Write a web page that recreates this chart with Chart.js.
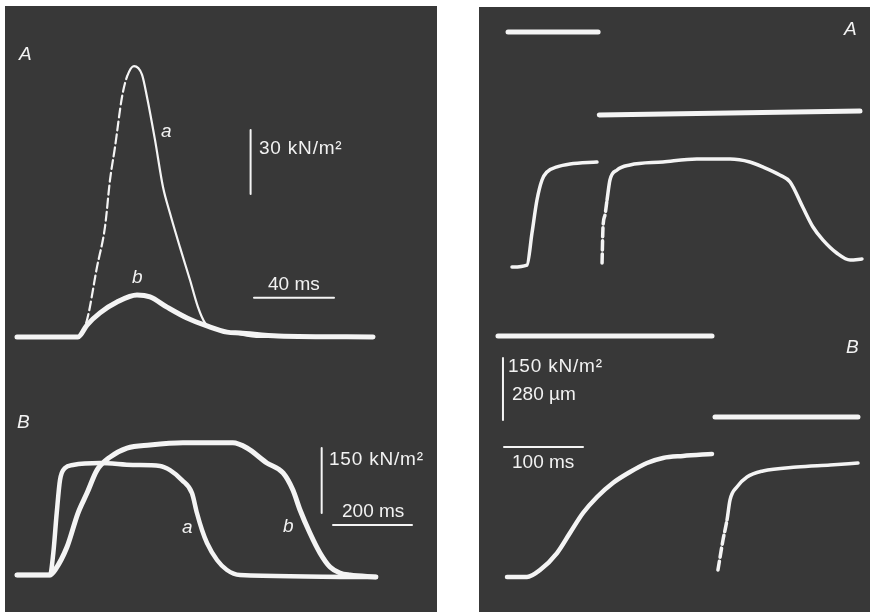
<!DOCTYPE html>
<html>
<head>
<meta charset="utf-8">
<script src="https://cdn.jsdelivr.net/npm/chart.js@4.4.0/dist/chart.umd.min.js"></script>
<style>
body{margin:0;background:#fff;width:870px;height:612px;position:relative;overflow:hidden;font-family:'Liberation Sans',Arial,sans-serif;}
.panel{position:absolute;background:#383838;}
canvas{position:absolute;}
.t{position:absolute;color:#f2f2f2;font-size:19px;line-height:1;white-space:nowrap;}
.i{font-style:italic;}
.u{letter-spacing:0.8px;}
</style>
</head>
<body>
<div class="panel" style="left:5px;top:6px;width:432px;height:606px"></div>
<div class="panel" style="left:479px;top:7px;width:391px;height:605px"></div>

<canvas id="leftA" width="432" height="364" style="left:5px;top:6px"></canvas>
<canvas id="leftB" width="432" height="242" style="left:5px;top:370px"></canvas>
<canvas id="rightA" width="391" height="293" style="left:479px;top:7px"></canvas>
<canvas id="rightB" width="391" height="312" style="left:479px;top:300px"></canvas>

<div class="t i" style="left:19px;top:44px">A</div>
<div class="t i" style="left:161px;top:121px">a</div>
<div class="t i" style="left:132px;top:267px">b</div>
<div class="t u" style="left:259px;top:138px">30 kN/m²</div>
<div class="t" style="left:268px;top:274px">40 ms</div>

<div class="t i" style="left:17px;top:412px">B</div>
<div class="t i" style="left:182px;top:517px">a</div>
<div class="t i" style="left:283px;top:516px">b</div>
<div class="t u" style="left:329px;top:449px">150 kN/m²</div>
<div class="t" style="left:342px;top:501px">200 ms</div>

<div class="t i" style="left:844px;top:19px">A</div>
<div class="t i" style="left:846px;top:337px">B</div>
<div class="t u" style="left:508px;top:356px">150 kN/m²</div>
<div class="t" style="left:512px;top:384px">280 µm</div>
<div class="t" style="left:512px;top:452px">100 ms</div>

<script>
// ---- left A: twitch (ms, kN/m2)
var laTimeA=[-30.5,0,4.5,9.5,13.5,16,18.5,22,24.5,28,32,34.5,38.5,42.5,46,51,56,60,63.5,69.5,77.5,91,147.5];
var laForceA=[0,0,8,32.8,51.6,73.6,89,112.5,122,127,123,112.5,92.4,70.3,58,42,26.7,14,6.6,3.3,1.9,0,0];
var laTimeB=[-30.5,0,4.5,11,19.5,29.5,36,44.5,54.5,64.5,74.5,81,100,147.5];
var laForceB=[0,0,5.6,11.3,16.4,19.7,18.8,14,8.9,5.2,2.3,1.9,0.5,0];

// ---- left B: tetani (ms, kN/m2)
var lbTimeA=[-83.5,0,8.4,17,25.3,38,58,126.6,210,278.5,303.8,334,359.5,372,384.8,397.5,422.8,448,481,825];
var lbForceA=[0,0,50.8,143,219,247,254,258.5,254,251.6,242,219,189,143,104,74,34.6,11.5,0,-4.6];
var lbTimeB=[-83.5,0,12.7,43,70.9,93.7,119,151.9,195,253,336.7,463,498.7,549,590,615,633,658,683.5,709,734,759.5,825];
var lbForceB=[0,0,11.5,64.6,143,189,242,272,293,300,305,305,293,258.5,235.5,196,150,97,51,18.5,4.6,0,-4.6];

// ---- right A: release during tetanus (ms, kN/m2; length in um)
var raTime1=[0,19,25.3,31.6,38,44.3,57,73.4,107.6];
var raForce1=[0,4.8,82,162,210.5,230,242,249,254];
var raTime2=[114,115.2,117.7,120.3,124,133,149.4,191,234,276,301,317.7,339,352,368,381,393.7,411,428,443];
var raForce2=[9.7,96.8,125.8,162,210.5,234.7,246.8,254,261,261,254,242,222.6,205.7,145,96.8,65,33.9,16.9,19.4];
var raLenTime1=[-5,109], raLen1=[0,0];
var raLenTime2=[110.5,440.5], raLen2=[-375,-357];

// ---- right B
var rbTime1=[0,25.3,41.8,63.3,79.7,96.2,114,134,155.7,177.2,197.5,222.8,259.5];
var rbForce1=[0,0,16.9,58,106.5,154.8,193.6,227.4,254,275.8,288,292.8,297.6];
var rbTime2=[267,273.4,278.5,282.3,291,303.8,324,367,409,444.3];
var rbForce2=[16.9,89.5,138,186.3,217.8,242,256.5,266,271,275.8];
var rbLenTime1=[-11.4,259.5], rbLen1=[0,0];
var rbLenTime2=[263.3,444.3], rbLen2=[-366,-366];

// ---- calibration bars
var laBarV={t:[86.3,86.3],f:[67,97]}, laBarH={t:[88,128],f:[18.4,18.4]};
var lbBarV={t:[687.8,687.8],f:[143,293]}, lbBarH={t:[716.5,916.5],f:[115.4,115.4]};
var rbBarV={t:[-5.1,-5.1],f:[380,530]}, rbBarH={t:[-3.8,96.2],f:[314.5,314.5]};

var WHITE='#f4f4f4';

function pts(xs,ys){
	return xs.map(function(x,i){return {x:x,y:ys[i]};});
}

function trace(xs,ys,w,dashTo,axis){
	var ds={data:pts(xs,ys),borderColor:WHITE,borderWidth:w,pointRadius:0,
		cubicInterpolationMode:'monotone',borderCapStyle:'round',borderJoinStyle:'round'};
	if(dashTo!=null){
		ds.segment={borderDash:function(c){return c.p1DataIndex<=dashTo?[9,4]:undefined;}};
	}
	if(axis) ds.yAxisID=axis;
	return ds;
}

function makeChart(id,xr,yr,datasets,lenr){
	var scales={
		x:{type:'linear',display:false,min:xr[0],max:xr[1]},
		y:{type:'linear',display:false,min:yr[0],max:yr[1]}
	};
	if(lenr) scales.len={type:'linear',display:false,min:lenr[0],max:lenr[1]};
	return new Chart(document.getElementById(id),{
		type:'line',
		data:{datasets:datasets},
		options:{
			responsive:false,
			animation:false,
			devicePixelRatio:1,
			events:[],
			layout:{padding:0},
			plugins:{legend:{display:false},tooltip:{enabled:false}},
			scales:scales
		}
	});
}

makeChart('leftA',[-36.5,179.5],[-15.47,155.16],[
	trace(laTimeB,laForceB,5),
	trace(laTimeA,laForceA,2.2,8),
	trace(laBarV.t,laBarV.f,2),
	trace(laBarH.t,laBarH.f,2)
]);

makeChart('leftB',[-113.92,979.75],[-85.38,473.08],[
	trace(lbTimeA,lbForceA,4.5),
	trace(lbTimeB,lbForceB,5),
	trace(lbBarV.t,lbBarV.f,2),
	trace(lbBarH.t,lbBarH.f,2)
]);

makeChart('rightA',[-41.77,453.16],[-79.84,629.03],[
	trace(raTime1,raForce1,3.5),
	trace(raTime2,raForce2,3.5,3),
	trace(raLenTime1,raLen1,5,null,'len'),
	trace(raLenTime2,raLen2,5,null,'len')
],[-1210.3,112.9]);

makeChart('rightB',[-35.44,459.49],[-84.68,670.16],[
	trace(rbTime1,rbForce1,4.5),
	trace(rbTime2,rbForce2,3.5,2),
	trace(rbLenTime1,rbLen1,5,null,'len'),
	trace(rbLenTime2,rbLen2,5,null,'len'),
	trace(rbBarV.t,rbBarV.f,2),
	trace(rbBarH.t,rbBarH.f,2)
],[-1246.4,162.6]);
</script>
</body>
</html>
